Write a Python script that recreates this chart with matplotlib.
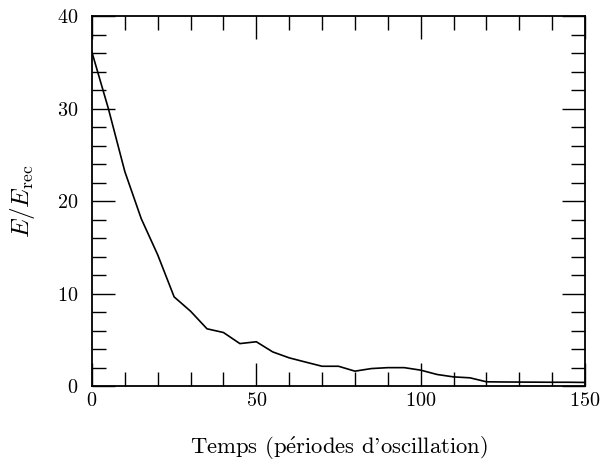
import matplotlib
matplotlib.use("Agg")
import matplotlib.pyplot as plt
from matplotlib.ticker import MultipleLocator

plt.rcParams['font.family'] = ['cmr10', 'DejaVu Serif']
plt.rcParams['mathtext.fontset'] = 'cm'
plt.rcParams['axes.unicode_minus'] = False
plt.rcParams['axes.formatter.use_mathtext'] = True

t = [0, 5, 10, 15, 20, 25, 30, 35, 40, 45, 50, 55, 60, 65, 70, 75, 80, 85,
     90, 95, 100, 105, 110, 115, 120, 125, 130, 135, 140, 145, 150]
E = [36.1, 30.0, 23.2, 18.1, 14.2, 9.65, 8.1, 6.2, 5.8, 4.6, 4.8, 3.7, 3.06,
     2.6, 2.15, 2.15, 1.62, 1.9, 2.0, 2.0, 1.73, 1.26, 1.0, 0.9, 0.47, 0.45,
     0.44, 0.43, 0.42, 0.42, 0.4]

fig = plt.figure(figsize=(6.05, 4.63), dpi=100)
ax = fig.add_axes([0.152, 0.166, 0.815, 0.799])
ax.plot(t, E, color='black', lw=1.2)
ax.set_xlim(0, 150)
ax.set_ylim(0, 40)
ax.xaxis.set_major_locator(MultipleLocator(50))
ax.xaxis.set_minor_locator(MultipleLocator(10))
ax.yaxis.set_major_locator(MultipleLocator(10))
ax.yaxis.set_minor_locator(MultipleLocator(2))
ax.tick_params(which='both', direction='in', top=True, right=True, labelsize=14.5, width=1.0)
ax.tick_params(which='major', length=16.5)
ax.tick_params(which='minor', length=10)
ax.tick_params(axis='x', which='major', pad=4)
ax.tick_params(axis='y', which='major', pad=10)
for s in ax.spines.values():
    s.set_linewidth(1.3)
ax.set_xlabel(r"Temps (p$\acute{\mathrm{e}}$riodes d'oscillation)", fontsize=16.3, labelpad=18)
ax.set_ylabel(r"$E/E_{\mathrm{rec}}$", fontsize=18, labelpad=14)
fig.savefig("out.png", dpi=100)
